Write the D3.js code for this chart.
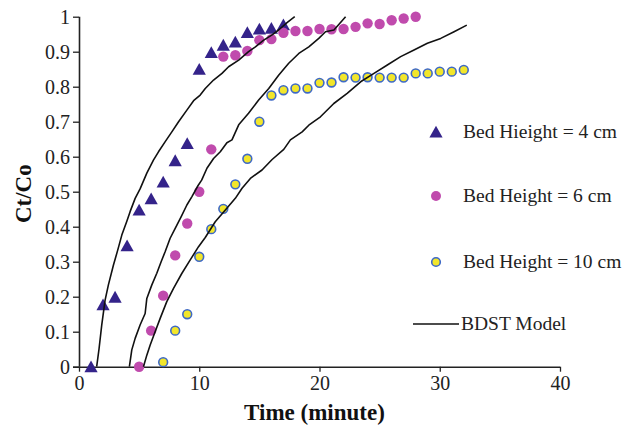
<!DOCTYPE html>
<html>
<head>
<meta charset="utf-8">
<script src="https://cdn.jsdelivr.net/npm/d3@7"></script>
<style>
  html, body { margin: 0; padding: 0; background: #fff; }
  svg { display: block; }
  svg text { font-family: "Liberation Serif", "Times New Roman", serif; }
</style>
</head>
<body>
<svg id="chart" width="630" height="429"></svg>
<script>
// Breakthrough data: Ct/Co against time (minute) for three bed heights
const time4 = [1, 2, 3, 4, 5, 6, 7, 8, 9, 10, 11, 12, 13, 14, 15, 16, 17];
const ratio4 = [0, 0.177, 0.199, 0.346, 0.448, 0.48, 0.528, 0.589, 0.638, 0.85, 0.898, 0.919, 0.928, 0.955, 0.965, 0.967, 0.977];

const time6 = [5, 6, 7, 8, 9, 10, 11, 12, 13, 14, 15, 16, 17, 18, 19, 20, 21, 22, 23, 24, 25, 26, 27, 28];
const ratio6 = [0, 0.103, 0.203, 0.318, 0.409, 0.5, 0.621, 0.886, 0.89, 0.902, 0.933, 0.936, 0.954, 0.959, 0.959, 0.965, 0.964, 0.965, 0.971, 0.981, 0.979, 0.99, 0.995, 1.0];

const time10 = [7, 8, 9, 10, 11, 12, 13, 14, 15, 16, 17, 18, 19, 20, 21, 22, 23, 24, 25, 26, 27, 28, 29, 30, 31, 32];
const ratio10 = [0.013, 0.103, 0.15, 0.314, 0.393, 0.451, 0.521, 0.594, 0.7, 0.775, 0.79, 0.795, 0.795, 0.811, 0.812, 0.827, 0.826, 0.827, 0.826, 0.826, 0.826, 0.838, 0.838, 0.843, 0.843, 0.848];

// BDST model curves (time, Ct/Co)
const bdstTime4 = [1.47, 1.67, 1.89, 2.17, 2.44, 2.86, 3.22, 3.56, 3.97, 4.25, 4.67, 5.08, 5.64, 6.19, 6.61, 7.17, 7.72, 8.28, 8.97, 9.53, 10.08, 10.5, 11.19, 11.89, 12.44, 13.28, 14.1, 14.67, 15.36, 16.06, 16.6, 17.3, 17.94];
const bdstRatio4 = [0, 0.052, 0.119, 0.19, 0.233, 0.29, 0.333, 0.376, 0.415, 0.443, 0.481, 0.508, 0.553, 0.59, 0.614, 0.643, 0.671, 0.7, 0.733, 0.76, 0.776, 0.795, 0.819, 0.838, 0.857, 0.876, 0.9, 0.914, 0.933, 0.948, 0.962, 0.983, 1.0];

const bdstTime6 = [4.19, 4.39, 4.67, 5.08, 5.5, 5.64, 6.05, 6.47, 6.83, 7.17, 7.58, 8.0, 8.5, 8.97, 9.39, 9.89, 10.2, 10.64, 11.19, 11.75, 12.3, 12.72, 13.28, 14.1, 14.94, 15.78, 16.6, 17.44, 18.28, 19.11, 19.94, 20.5, 21.2, 22.17];
const bdstRatio6 = [0, 0.048, 0.081, 0.119, 0.152, 0.195, 0.233, 0.267, 0.3, 0.329, 0.367, 0.395, 0.429, 0.462, 0.486, 0.517, 0.533, 0.567, 0.595, 0.614, 0.64, 0.648, 0.691, 0.724, 0.762, 0.795, 0.833, 0.867, 0.895, 0.914, 0.938, 0.957, 0.962, 1.0];

const bdstTime10 = [5.36, 5.64, 5.92, 6.33, 6.75, 7.3, 7.86, 8.56, 9.25, 9.94, 10.5, 11.33, 12.17, 13.0, 13.56, 14.25, 15.22, 16.06, 17.03, 17.58, 18.56, 19.11, 20.08, 21.19, 22.3, 23.42, 24.53, 25.64, 26.75, 27.86, 28.97, 30.08, 31.19, 32.25];
const bdstRatio10 = [0, 0.033, 0.062, 0.1, 0.138, 0.186, 0.224, 0.267, 0.305, 0.343, 0.369, 0.414, 0.448, 0.481, 0.51, 0.538, 0.562, 0.592, 0.621, 0.648, 0.671, 0.69, 0.714, 0.752, 0.781, 0.814, 0.838, 0.862, 0.886, 0.905, 0.924, 0.938, 0.957, 0.976];

const xTicks = [0, 10, 20, 30, 40];
const yTicks = [0, 0.1, 0.2, 0.3, 0.4, 0.5, 0.6, 0.7, 0.8, 0.9, 1];
const yTickLabels = ["0", "0.1", "0.2", "0.3", "0.4", "0.5", "0.6", "0.7", "0.8", "0.9", "1"];

const legendLabels = ["Bed Hieight = 4 cm", "Bed Height = 6 cm", "Bed Height = 10 cm", "BDST Model"];
const xTitle = "Time (minute)";
const yTitle = "Ct/Co";

// ---- layout ----
const serif = "Liberation Serif, Times New Roman, serif";
const svg = d3.select("#chart");
const plotLeft = 79, plotRight = 560, plotTop = 16.7, plotBottom = 366.7;

const x = d3.scaleLinear().domain([0, 40]).range([plotLeft, plotRight]);
const y = d3.scaleLinear().domain([0, 1]).range([plotBottom, plotTop]);

const colTri = "#34238a";
const colPink = "#c04bad";
const colYellow = "#f2e62b";
const colYellowEdge = "#3e69c6";

// ---- axes ----
const xAxis = d3.axisBottom(x).tickValues(xTicks).tickSize(5).tickPadding(4).tickFormat(d3.format("d"));
const yAxis = d3.axisLeft(y).tickValues(yTicks).tickSize(6).tickPadding(3)
  .tickFormat((d, i) => yTickLabels[i]);

const gx = svg.append("g").attr("transform", `translate(0,${plotBottom})`).call(xAxis);
const gy = svg.append("g").attr("transform", `translate(${plotLeft},0)`).call(yAxis);

[gx, gy].forEach(g => {
  g.attr("font-family", serif).attr("font-size", 20);
  g.select(".domain").attr("stroke", "#222").attr("stroke-width", 1.6);
  g.selectAll(".tick line").attr("stroke", "#222").attr("stroke-width", 1.3);
  g.selectAll(".tick text").attr("fill", "#222").attr("font-family", serif).attr("font-size", 20);
});
// plain axis lines without the end caps of the D3 domain path
gx.select(".domain").attr("d", `M${plotLeft - 6},0.5H${plotRight}`);
gy.select(".domain").attr("d", `M0.5,${plotTop}V${plotBottom}`);

// axis titles
svg.append("text")
  .attr("x", (plotLeft + plotRight) / 2 - 5)
  .attr("y", 420)
  .attr("text-anchor", "middle")
  .attr("font-family", serif).attr("font-size", 23).attr("font-weight", "bold").attr("fill", "#111")
  .text(xTitle);

svg.append("text")
  .attr("transform", `translate(31,${(plotTop + plotBottom) / 2 + 2}) rotate(-90)`)
  .attr("text-anchor", "middle")
  .attr("font-family", serif).attr("font-size", 23).attr("font-weight", "bold").attr("fill", "#111")
  .text(yTitle);

// ---- markers ----
const triPath = "M0,-6.2L6.6,5.6L-6.6,5.6Z";

const zip = (a, b) => a.map((v, i) => [v, b[i]]);

svg.append("g").selectAll("path")
  .data(zip(time4, ratio4)).join("path")
  .attr("d", triPath)
  .attr("transform", d => `translate(${x(d[0])},${y(d[1])})`)
  .attr("fill", colTri);

svg.append("g").selectAll("circle")
  .data(zip(time6, ratio6)).join("circle")
  .attr("cx", d => x(d[0])).attr("cy", d => y(d[1]))
  .attr("r", 5.2).attr("fill", colPink);

svg.append("g").selectAll("circle")
  .data(zip(time10, ratio10)).join("circle")
  .attr("cx", d => x(d[0])).attr("cy", d => y(d[1]))
  .attr("r", 4.4).attr("fill", colYellow)
  .attr("stroke", colYellowEdge).attr("stroke-width", 1.6);

// ---- BDST model lines ----
const line = d3.line().x(d => x(d[0])).y(d => y(d[1]));
[[bdstTime4, bdstRatio4], [bdstTime6, bdstRatio6], [bdstTime10, bdstRatio10]].forEach(([t, r]) => {
  svg.append("path")
    .datum(zip(t, r))
    .attr("d", line)
    .attr("fill", "none")
    .attr("stroke", "#111")
    .attr("stroke-width", 1.6)
    .attr("stroke-linejoin", "round");
});

// ---- legend ----
const lgX = 436, lgTextX = 463;
const lgY = [132, 196, 262, 324];
const lg = svg.append("g");

lg.append("path").attr("d", triPath).attr("transform", `translate(${lgX},${lgY[0]})`).attr("fill", colTri);
lg.append("circle").attr("cx", lgX).attr("cy", lgY[1]).attr("r", 5).attr("fill", colPink);
lg.append("circle").attr("cx", lgX).attr("cy", lgY[2]).attr("r", 4.3)
  .attr("fill", colYellow).attr("stroke", colYellowEdge).attr("stroke-width", 1.6);
lg.append("line").attr("x1", 413).attr("x2", 459).attr("y1", lgY[3]).attr("y2", lgY[3])
  .attr("stroke", "#111").attr("stroke-width", 1.6);

legendLabels.forEach((label, i) => {
  lg.append("text")
    .attr("x", i === 3 ? 461 : lgTextX)
    .attr("y", lgY[i] + 6)
    .attr("font-family", serif).attr("font-size", 19.5).attr("fill", "#222")
    .text(label);
});
</script>
</body>
</html>
